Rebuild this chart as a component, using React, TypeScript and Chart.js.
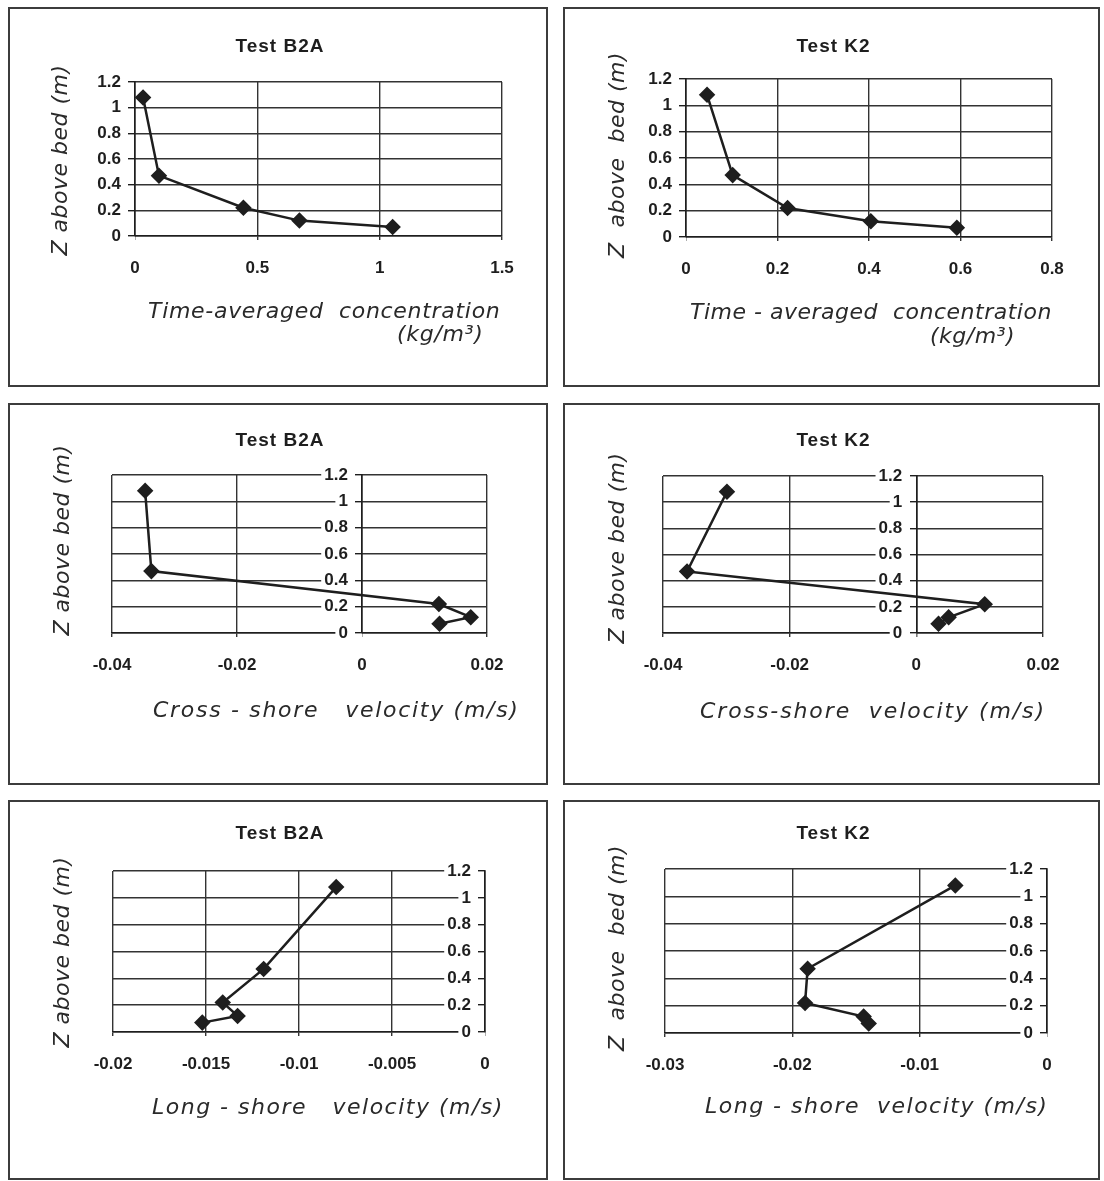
import React, { useEffect, useRef } from "react";
import { Chart, registerables } from "chart.js";

Chart.register(...registerables);

// ---------------- data ----------------
const zB2A = [1.08, 0.47, 0.22, 0.12, 0.07];
const zK2 = [1.08, 0.47, 0.22, 0.12, 0.07];

const concB2A = [0.033, 0.098, 0.443, 0.672, 1.053];
const concK2 = [0.046, 0.102, 0.222, 0.404, 0.592];

const crossB2A = [-0.0347, -0.0337, 0.0123, 0.0174, 0.0124];
const crossK2 = [-0.0299, -0.0362, 0.0108, 0.0051, 0.0035];

const longB2A = [-0.008, -0.0119, -0.0141, -0.0133, -0.0152];
const longK2 = [-0.0072, -0.0188, -0.019, -0.0144, -0.014];

const zRange = [0, 1.2];
const zStep = 0.2;
const concRangeB2A = [0, 1.5];
const concStepB2A = 0.5;
const concRangeK2 = [0, 0.8];
const concStepK2 = 0.2;
const crossRange = [-0.04, 0.02];
const crossStep = 0.02;
const longRangeB2A = [-0.02, 0];
const longStepB2A = 0.005;
const longRangeK2 = [-0.03, 0];
const longStepK2 = 0.01;

const testNames = ["Test B2A", "Test K2"];
const zTitle = "Z above bed (m)";
const zTitleWide = "Z  above  bed (m)";

// ---------------- layout ----------------
type Area = { l: number; t: number; r: number; b: number };
type XTitle = { text: string; left: number; cy: number; ls: number };
type Spec = {
  x: number;
  y: number;
  w: number;
  h: number;
  area: Area;
  xs: number[];
  zs: number[];
  xRange: number[];
  xStep: number;
  title: string;
  titleY: number;
  yTitle: string;
  yTitlePos: [number, number];
  xTitles: XTitle[];
};

const specs: Spec[] = [
  {
    x: 8, y: 7, w: 540, h: 380,
    area: { l: 135, t: 82, r: 502, b: 236 },
    xs: concB2A, zs: zB2A, xRange: concRangeB2A, xStep: concStepB2A,
    title: testNames[0], titleY: 46,
    yTitle: zTitle, yTitlePos: [60, 160],
    xTitles: [
      { text: "Time-averaged  concentration", left: 148, cy: 311, ls: 0.7 },
      { text: "(kg/m³)", left: 397, cy: 334, ls: 0.7 },
    ],
  },
  {
    x: 563, y: 7, w: 537, h: 380,
    area: { l: 686, t: 79, r: 1052, b: 237 },
    xs: concK2, zs: zK2, xRange: concRangeK2, xStep: concStepK2,
    title: testNames[1], titleY: 46,
    yTitle: zTitleWide, yTitlePos: [617, 155],
    xTitles: [
      { text: "Time - averaged  concentration", left: 690, cy: 312, ls: 0.5 },
      { text: "(kg/m³)", left: 930, cy: 336, ls: 0.5 },
    ],
  },
  {
    x: 8, y: 403, w: 540, h: 382,
    area: { l: 112, t: 475, r: 487, b: 633 },
    xs: crossB2A, zs: zB2A, xRange: crossRange, xStep: crossStep,
    title: testNames[0], titleY: 440,
    yTitle: zTitle, yTitlePos: [62, 540],
    xTitles: [{ text: "Cross - shore   velocity (m/s)", left: 153, cy: 710, ls: 1.7 }],
  },
  {
    x: 563, y: 403, w: 537, h: 382,
    area: { l: 663, t: 476, r: 1043, b: 633 },
    xs: crossK2, zs: zK2, xRange: crossRange, xStep: crossStep,
    title: testNames[1], titleY: 440,
    yTitle: zTitle, yTitlePos: [617, 548],
    xTitles: [{ text: "Cross-shore  velocity (m/s)", left: 700, cy: 711, ls: 1.9 }],
  },
  {
    x: 8, y: 800, w: 540, h: 380,
    area: { l: 113, t: 871, r: 485, b: 1032 },
    xs: longB2A, zs: zB2A, xRange: longRangeB2A, xStep: longStepB2A,
    title: testNames[0], titleY: 833,
    yTitle: zTitle, yTitlePos: [62, 952],
    xTitles: [{ text: "Long - shore   velocity (m/s)", left: 152, cy: 1107, ls: 1.5 }],
  },
  {
    x: 563, y: 800, w: 537, h: 380,
    area: { l: 665, t: 869, r: 1047, b: 1033 },
    xs: longK2, zs: zK2, xRange: longRangeK2, xStep: longStepK2,
    title: testNames[1], titleY: 833,
    yTitle: zTitleWide, yTitlePos: [617, 948],
    xTitles: [{ text: "Long - shore  velocity (m/s)", left: 705, cy: 1106, ls: 1.5 }],
  },
];

const INK = "#1e1e1e";
const GRID = "#333333";
const XAXIS_H = 44;
const tickFont = { family: "'Liberation Sans', Arial, sans-serif", size: 17, weight: "bold" as const };
const fmt = (v: number | string) => String(Number(Number(v).toFixed(4)));

function Panel({ spec }: { spec: Spec }) {
  const ref = useRef<HTMLCanvasElement>(null);
  const cw = spec.w - 4;
  const ch = spec.h - 4;
  useEffect(() => {
    const cx0 = spec.x + 2;
    const cy0 = spec.y + 2;
    const padding = {
      left: spec.area.l - cx0,
      top: spec.area.t - cy0,
      right: cx0 + cw - spec.area.r,
      bottom: cy0 + ch - spec.area.b - XAXIS_H,
    };
    const points = spec.xs.map((x, i) => ({ x, y: spec.zs[i] }));
    const zeroWidth = (s: any) => {
      s.width = 0;
    };
    const chart = new Chart(ref.current as HTMLCanvasElement, {
      type: "scatter",
      data: {
        datasets: [
          {
            data: points,
            showLine: true,
            borderColor: INK,
            borderWidth: 2.5,
            pointStyle: "rectRot",
            pointRadius: 6.5,
            pointBackgroundColor: INK,
            pointBorderColor: INK,
            clip: false as any,
            yAxisID: "y",
          },
        ],
      },
      options: {
        responsive: false,
        animation: false,
        devicePixelRatio: 1,
        layout: { padding },
        plugins: { legend: { display: false }, tooltip: { enabled: false }, title: { display: false } },
        scales: {
          x: {
            type: "linear",
            position: "bottom",
            min: spec.xRange[0],
            max: spec.xRange[1],
            afterFit: (s: any) => {
              s.height = XAXIS_H;
            },
            ticks: {
              stepSize: spec.xStep,
              autoSkip: false,
              font: tickFont,
              color: INK,
              padding: 18,
              callback: (v: any) => fmt(v),
            },
            grid: { color: GRID, lineWidth: 1.4, tickLength: 4, drawTicks: true },
            border: { color: INK, width: 1.6 },
          },
          // labelled value axis, crossing at x = 0 (labels with white backdrop)
          y: {
            type: "linear",
            axis: "y",
            position: { x: 0 } as any,
            min: zRange[0],
            max: zRange[1],
            afterFit: zeroWidth,
            ticks: {
              stepSize: zStep,
              autoSkip: false,
              font: tickFont,
              color: INK,
              showLabelBackdrop: true,
              backdropColor: "#ffffff",
              backdropPadding: { top: 0, bottom: 0, left: 3, right: 0 },
              callback: (v: any) => fmt(v) + "   ",
            } as any,
            grid: { color: GRID, lineWidth: 1.4, tickLength: 0 },
            border: { display: false },
          },
          // axis line + tick marks drawn above the label backdrops
          yLine: {
            type: "linear",
            axis: "y",
            position: { x: 0 } as any,
            min: zRange[0],
            max: zRange[1],
            afterFit: zeroWidth,
            ticks: { stepSize: zStep, color: "rgba(0,0,0,0)", font: tickFont, z: 1 },
            grid: { drawOnChartArea: false, drawTicks: true, tickLength: 6, color: INK, lineWidth: 1.4, z: 1 },
            border: { color: INK, width: 1.6, z: 1 },
          } as any,
        },
      },
    });
    return () => chart.destroy();
  }, []);
  return (
    <div
      style={{
        position: "absolute",
        left: spec.x,
        top: spec.y,
        width: spec.w,
        height: spec.h,
        border: "2px solid #3c3c3c",
        boxSizing: "border-box",
        background: "#fff",
      }}
    >
      <canvas ref={ref} width={cw} height={ch} style={{ display: "block", width: cw, height: ch }} />
    </div>
  );
}

const handFont: React.CSSProperties = {
  position: "absolute",
  fontFamily: "'DejaVu Sans', sans-serif",
  fontStyle: "italic",
  fontSize: 22,
  letterSpacing: 0.5,
  color: "#2a2a2a",
  whiteSpace: "pre",
  lineHeight: 1,
};

export default function App() {
  return (
    <div style={{ position: "fixed", left: 0, top: 0, width: 1104, height: 1181, background: "#fff", overflow: "hidden" }}>
      {specs.map((s, i) => (
        <Panel key={i} spec={s} />
      ))}
      {specs.map((s, i) => (
        <React.Fragment key={"t" + i}>
          <div
            style={{
              position: "absolute",
              left: s.x + s.w / 2 + 2,
              top: s.titleY,
              transform: "translate(-50%, -50%)",
              fontFamily: "'Liberation Sans', Arial, sans-serif",
              fontWeight: "bold",
              fontSize: 19,
              letterSpacing: 1,
              color: INK,
              whiteSpace: "nowrap",
            }}
          >
            {s.title}
          </div>
          <div
            style={{
              ...handFont,
              left: s.yTitlePos[0],
              top: s.yTitlePos[1],
              transform: "translate(-50%, -50%) rotate(-90deg)",
            }}
          >
            {s.yTitle}
          </div>
          {s.xTitles.map((t, j) => (
            <div
              key={j}
              style={{ ...handFont, letterSpacing: t.ls, left: t.left, top: t.cy, transform: "translateY(-50%)" }}
            >
              {t.text}
            </div>
          ))}
        </React.Fragment>
      ))}
    </div>
  );
}
